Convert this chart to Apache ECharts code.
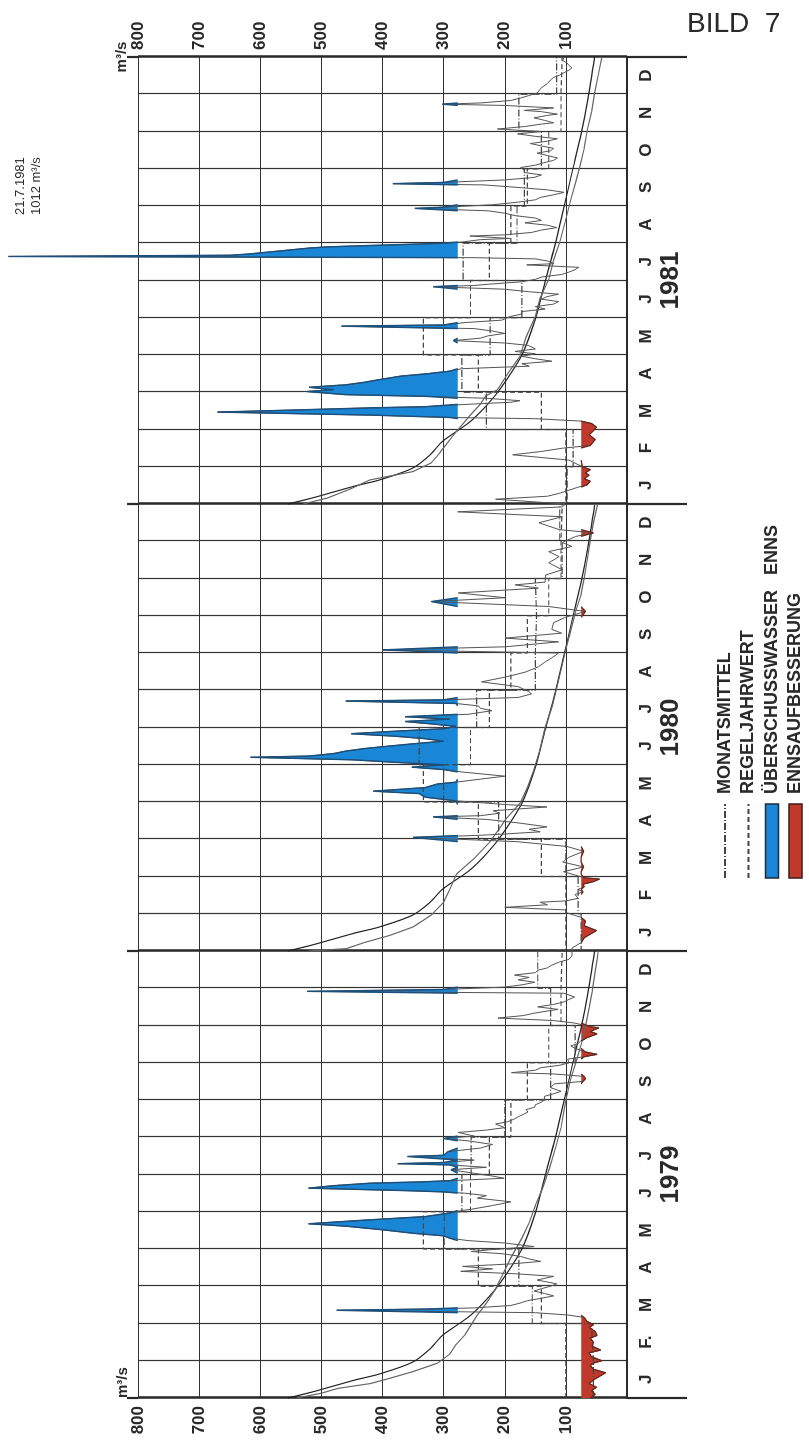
<!DOCTYPE html>
<html>
<head>
<meta charset="utf-8">
<script src="https://cdn.jsdelivr.net/npm/echarts@6/dist/echarts.min.js"></script>
<style>
    html, body { margin: 0; padding: 0; background: #fff; width: 809px; height: 1447px; overflow: hidden; }
    /* chart is drawn lying on its side and turned upright like the scanned sheet */
    #chart { position: absolute; left: 0; top: 0; width: 1447px; height: 809px;
             transform-origin: 0 0; transform: translate(0px, 1447px) rotate(-90deg); }
</style>
</head>
<body>
<div id="chart"></div>
<script>
// ---- data (day of year, m3/s) ----
const years = ['1979', '1980', '1981']
const monthLetters = ['J', 'F', 'M', 'A', 'M', 'J', 'J', 'A', 'S', 'O', 'N', 'D']
const valueTicks = [100, 200, 300, 400, 500, 600, 700, 800]

const flow1979 = [
    [0, 60], [3, 52], [6, 58], [9, 50], [12, 62], [15, 55], [18, 45], [21, 35], [24, 55], [27, 60],
    [29, 55], [31, 41], [34, 58], [37, 62], [39, 43], [42, 57], [45, 55], [48, 60], [50, 49], [53, 52],
    [56, 62], [58, 55], [61, 66], [64, 70], [66, 95], [68, 150], [70, 475], [71, 330], [72, 250], [74, 190],
    [76, 175], [78, 163], [80, 140], [82, 120], [84, 135], [86, 152], [88, 140], [90, 125], [92, 115], [95, 147],
    [98, 120], [100, 180], [102, 272], [104, 220], [106, 269], [108, 190], [110, 141], [112, 160], [114, 174], [116, 200],
    [118, 255], [120, 210], [122, 152], [125, 200], [127, 260], [129, 290], [131, 300], [133, 348], [136, 400], [139, 460],
    [141, 521], [144, 430], [147, 330], [150, 290], [152, 270], [153, 255], [156, 220], [159, 190], [162, 245], [164, 230],
    [166, 266], [167, 300], [168, 360], [170, 521], [172, 480], [174, 420], [175, 340], [176, 290], [178, 201], [180, 223],
    [182, 250], [185, 288], [187, 230], [189, 290], [190, 375], [191, 300], [193, 250], [196, 359], [197, 300], [200, 293],
    [203, 240], [206, 220], [209, 260], [211, 300], [213, 250], [216, 276], [218, 230], [220, 200], [223, 215], [225, 195],
    [227, 185], [229, 178], [231, 170], [233, 162], [235, 165], [237, 151], [239, 150], [241, 141], [243, 135], [246, 135],
    [248, 120], [250, 108], [253, 125], [256, 119], [258, 72], [260, 68], [262, 70], [264, 120], [265, 189], [267, 150],
    [269, 141], [271, 110], [273, 95], [276, 97], [278, 70], [280, 49], [282, 68], [285, 85], [287, 92], [289, 80],
    [291, 76], [294, 65], [297, 49], [299, 60], [302, 46], [303, 60], [306, 86], [308, 120], [310, 211], [312, 170],
    [314, 151], [317, 113], [319, 146], [321, 120], [323, 103], [325, 95], [327, 86], [330, 103], [331.5, 523], [333, 300],
    [335, 200], [337, 170], [339, 151], [341, 178], [343, 160], [345, 184], [347, 150], [349, 146], [351, 130], [353, 124],
    [356, 110], [358, 95], [361, 90], [365, 90]
]
const flow1980 = [
    [0, 90], [2.5, 90], [7, 75], [11, 70], [17, 50], [21, 70], [25, 68], [28, 75], [32, 100], [34, 100],
    [36, 200], [38, 130], [40, 142], [41, 100], [43, 80], [46, 85], [48, 72], [50, 80], [52, 70], [54, 72],
    [56, 55], [58, 45], [59, 70], [62, 90], [64, 104], [68, 71], [72, 105], [76, 95], [81, 71], [85, 98],
    [89, 180], [92.5, 350], [94, 250], [95, 208], [97, 142], [99, 160], [101, 131], [104, 175], [107, 230], [109, 317],
    [110, 240], [112, 208], [114, 219], [117, 131], [119, 200], [122, 280], [125, 330], [128, 340], [130, 415], [133, 330],
    [136, 310], [137.5, 280], [140, 240], [142.5, 200], [146, 270], [148, 300], [150, 352], [152, 300], [154, 380], [156, 450],
    [158, 616], [159, 520], [161, 480], [163, 460], [165, 430], [167, 390], [169, 347], [171, 300], [173, 330], [175, 380],
    [177, 451], [179, 380], [181, 300], [183, 280], [185, 320], [187, 363], [189, 290], [191, 363], [193, 260], [196, 221],
    [198, 240], [200, 243], [202, 280], [204, 460], [205, 300], [207, 178], [210, 156], [212, 161], [216, 178], [220, 238],
    [224, 199], [228, 167], [232.5, 145], [236.6, 134], [240, 123], [244, 112], [246.5, 399], [249, 199], [253, 112], [256, 199],
    [260, 107], [263, 123], [268.5, 120], [272.7, 101], [277.6, 68], [281.7, 128], [285.8, 320], [289, 199], [293, 276], [297, 145],
    [299.7, 183], [302, 134], [307.9, 133], [312, 106], [317.7, 128], [322.6, 111], [326.7, 128], [330.8, 90], [334, 106], [339, 84],
    [342, 55], [344.7, 111], [350.4, 144], [355.4, 106], [359.5, 277], [363.6, 106], [366, 100]
]
const flow1981 = [
    [0, 100], [1, 100], [4, 215], [6.5, 130], [9, 110], [14, 80], [16, 65], [19, 60], [21, 70], [24, 62],
    [26, 68], [28.6, 60], [31, 73], [36, 95], [40, 187], [42.5, 140], [45, 105], [47, 60], [51.5, 52], [55, 62],
    [58, 55], [61, 50], [64, 58], [66, 75], [68, 150], [69, 290], [71, 420], [73.5, 670], [75, 560], [77, 420],
    [78, 330], [80, 260], [81.7, 190], [83, 175], [85, 230], [86.6, 330], [88, 460], [90.6, 524], [92, 480], [94, 520],
    [96, 460], [98, 430], [100, 407], [103, 370], [105, 325], [107, 290], [109, 270], [111, 160], [113, 172], [115, 123],
    [117, 150], [119, 172], [121, 150], [123, 183], [125, 150], [128, 161], [130, 200], [132, 284], [134, 240], [136, 227],
    [138, 200], [140, 221], [142, 250], [144, 467], [145, 300], [147, 265], [149, 205], [152, 191], [154, 172], [156, 172],
    [158, 134], [160, 150], [162, 120], [164, 112], [166, 140], [168, 131], [170, 112], [172, 161], [174, 200], [176, 317],
    [177, 250], [178, 227], [180, 172], [182, 150], [184, 139], [186, 107], [188, 95], [190, 85], [192, 79], [194, 164],
    [195, 120], [197, 128], [199, 150], [200, 250], [201, 1012], [202, 650], [203, 620], [204, 600], [205, 580], [206, 560],
    [208, 520], [209, 490], [210, 430], [211, 363], [212, 300], [213, 270], [215, 240], [216, 191], [218, 257], [219, 200],
    [221, 156], [223, 140], [225, 115], [227, 130], [229, 167], [231, 140], [233, 150], [235, 183], [237, 200], [239, 227],
    [241, 347], [242, 300], [244, 220], [246, 180], [248, 150], [250, 141], [252, 120], [254, 103], [256, 130], [258, 180],
    [260, 234], [261, 383], [262, 300], [264, 200], [266, 152], [268, 140], [270, 168], [272, 168], [274, 174], [276, 150],
    [278, 136], [280, 120], [282, 114], [284, 130], [286, 147], [288, 125], [290, 120], [292, 140], [294, 158], [296, 130],
    [298, 114], [300, 150], [302, 179], [304, 141], [306, 212], [308, 168], [310, 140], [311, 120], [313, 135], [315, 152],
    [317, 130], [318, 114], [320, 140], [321, 168], [323, 120], [325, 200], [326, 302], [327, 240], [329, 190], [331, 174],
    [333, 160], [335, 147], [339, 141], [343, 130], [346, 125], [348, 120], [350, 110], [352, 103], [354, 95], [356, 90],
    [358, 95], [360, 98], [362, 105], [365, 103]
]

// monthly means of each year and the long-term monthly values
const mean1979 = [55, 58, 155, 177, 299, 270, 255, 200, 125, 85, 125, 146]
const mean1980 = [75, 80, 100, 210, 300, 340, 246, 150, 148, 150, 106, 110]
const mean1981 = [98, 88, 230, 270, 224, 172, 268, 180, 168, 140, 177, 115]
const regelMonat = [100, 100, 140, 243, 333, 256, 225, 190, 163, 128, 108, 106]

// duration curves: long-term (smooth) and the one of each year
const dauerRegel = [
    [0, 555], [5, 515], [10, 480], [15, 445], [20, 405], [30, 350], [40, 322], [50, 302], [65, 258], [80, 228],
    [95, 204], [120, 172], [150, 150], [180, 134], [210, 118], [240, 104], [270, 90], [300, 76], [330, 64], [365, 53]
]
const dauer1979 = [
    [0, 540], [4, 500], [8, 473], [12, 420], [16, 391], [22, 350], [29, 310], [36, 290], [43, 280], [50, 266],
    [58, 255], [66, 245], [76, 230], [86, 217], [100, 203], [113, 190], [129, 172], [142, 160], [156, 150], [170, 138],
    [186, 127], [203, 117], [220, 108], [243, 100], [260, 92], [276, 82], [290, 74], [303, 68], [318, 62], [331, 57],
    [345, 53], [358, 49], [365, 47]
]
const dauer1980 = [
    [0, 520], [2, 459], [7, 430], [13, 388], [20, 350], [30, 320], [40, 300], [50, 290], [62, 279], [75, 250],
    [89, 224], [100, 208], [108, 197], [120, 175], [133, 163], [147, 153], [165, 142], [182, 134], [200, 122], [221, 112],
    [245, 101], [260, 93], [276, 85], [290, 76], [305, 70], [320, 65], [336, 60], [350, 55], [366, 48]
]
const dauer1981 = [
    [0, 530], [5, 490], [12, 455], [20, 421], [27, 350], [34, 320], [41, 307], [50, 292], [57, 280], [64, 268],
    [70, 258], [80, 240], [87, 231], [92, 212], [105, 195], [119, 175], [135, 165], [152, 150], [167, 142], [182, 128],
    [198, 120], [213, 110], [230, 101], [248, 92], [262, 84], [275, 77], [290, 70], [305, 65], [320, 58], [335, 53],
    [350, 47], [365, 41]
]

const surplusLimit = 277   // above: Überschusswasser
const lowLimit = 75        // below: Ennsaufbesserung

// ---- helpers ----
const monthDays = yi => yi === 1 ? [31, 29, 31, 30, 31, 30, 31, 31, 30, 31, 30, 31]
                                 : [31, 28, 31, 30, 31, 30, 31, 31, 30, 31, 30, 31]
// day of year -> position in months along the 36 month axis
function toX(yi, t) {
    const lens = monthDays(yi)
    let m = 0, acc = 0
    while (m < 11 && t > acc + lens[m]) { acc += lens[m]; m++ }
    return yi * 12 + m + (t - acc) / lens[m]
}
function perYear(list) {
    let out = []
    list.forEach((arr, yi) => {
        if (yi > 0) out.push([toX(yi, 0), '-'])
        arr.forEach(p => out.push([toX(yi, p[0]), p[1]]))
    })
    return out
}
const daily = []
;[flow1979, flow1980, flow1981].forEach((arr, yi) => arr.forEach(p => daily.push([toX(yi, p[0]), p[1]])))

function clipData(limit, above) {
    const hit = v => above ? v > limit : v < limit
    return daily.map((p, i) => {
        const prev = daily[i - 1], next = daily[i + 1]
        if (hit(p[1]) || (prev && hit(prev[1])) || (next && hit(next[1]))) {
            return [p[0], above ? Math.max(p[1], limit) : Math.min(p[1], limit)]
        }
        return [p[0], '-']
    })
}
function steps(means) {
    let out = []
    means.forEach((arr, yi) => arr.forEach((v, m) => out.push([yi * 12 + m, v])))
    out.push([36, means[means.length - 1][11]])
    return out
}

const monthLabels = []
years.forEach((y, yi) => monthLetters.forEach((l, m) => monthLabels.push(yi === 0 && m === 1 ? 'F.' : l)))

const font = "'Liberation Sans', Arial, sans-serif"
const ink = '#2a2a2a'
const hidden = { color: 'rgba(0,0,0,0)', opacity: 0, borderWidth: 0 }

var myChart = echarts.init(document.getElementById('chart'))
var option = {
    backgroundColor: '#fff',
    animation: false,
    grid: { left: 49, right: 57, top: 138, bottom: 182, containLabel: false },
    legend: {
        orient: 'vertical',
        left: 568,
        top: 716,
        padding: 0,
        itemWidth: 74,
        itemHeight: 13,
        itemGap: 5.5,
        textStyle: { fontFamily: font, fontSize: 18, fontWeight: 'bold', color: ink, padding: [0, 0, 0, 5] },
        data: [
            { name: 'MONATSMITTEL', itemStyle: hidden },
            { name: 'REGELJAHRWERT', itemStyle: hidden },
            { name: 'ÜBERSCHUSSWASSER   ENNS', icon: 'rect', itemStyle: { color: '#1a86d6', borderColor: '#1d2b3a', borderWidth: 1.5 } },
            { name: 'ENNSAUFBESSERUNG', icon: 'rect', itemStyle: { color: '#c0392b', borderColor: '#3a1d1d', borderWidth: 1.5 } },
        ],
    },
    xAxis: [
        {
            type: 'category',
            data: monthLabels,
            position: 'bottom',
            axisLine: { lineStyle: { color: ink, width: 2 } },
            axisTick: { show: false },
            axisLabel: { interval: 0, margin: 11, color: ink, fontFamily: font, fontSize: 17, fontWeight: 'bold' },
            splitLine: { show: true, interval: 0, lineStyle: { color: '#333', width: 1.2 } },
        },
        {
            type: 'category',
            data: years,
            position: 'bottom',
            axisLine: { show: false },
            axisTick: { show: true, interval: 0, length: 60, lineStyle: { color: ink, width: 2.2 } },
            axisLabel: { interval: 0, margin: 31, color: ink, fontFamily: font, fontSize: 26, fontWeight: 'bold' },
            splitLine: { show: true, interval: 0, lineStyle: { color: ink, width: 2.5 } },
        },
        { type: 'value', min: 0, max: 36, show: false },
        {
            type: 'category',
            data: years,
            position: 'top',
            axisLine: { show: false },
            axisTick: { show: true, interval: 0, length: 11, lineStyle: { color: ink, width: 2.2 } },
            axisLabel: { show: false },
            splitLine: { show: false },
        },
    ],
    yAxis: [
        {
            type: 'value', min: 0, max: 800, interval: 100, position: 'left',
            name: 'm³/s', nameLocation: 'end', nameGap: 8,
            nameTextStyle: { color: ink, fontFamily: font, fontSize: 15, fontWeight: 'bold', align: 'left' },
            axisLine: { show: false }, axisTick: { show: false },
            axisLabel: { margin: 8, color: ink, fontFamily: font, fontSize: 17, fontWeight: 'bold',
                         formatter: v => valueTicks.indexOf(v) >= 0 ? v : '' },
            splitLine: { show: true, lineStyle: { color: '#333', width: 1.2 } },
        },
        {
            type: 'value', min: 0, max: 800, interval: 100, position: 'right',
            name: 'm³/s', nameLocation: 'end', nameGap: 8,
            nameTextStyle: { color: ink, fontFamily: font, fontSize: 15, fontWeight: 'bold' },
            axisLine: { show: false }, axisTick: { show: false },
            axisLabel: { margin: 7, color: ink, fontFamily: font, fontSize: 17, fontWeight: 'bold',
                         formatter: v => valueTicks.indexOf(v) >= 0 ? v : '' },
            splitLine: { show: false },
        },
    ],
    series: [
        {
            name: 'Regeldauerlinie', type: 'line', xAxisIndex: 2, symbol: 'none', smooth: 0.3,
            data: perYear([dauerRegel, dauerRegel, dauerRegel]),
            lineStyle: { color: '#222', width: 1.2 },
        },
        {
            name: 'Dauerlinie', type: 'line', xAxisIndex: 2, symbol: 'none',
            data: perYear([dauer1979, dauer1980, dauer1981]),
            lineStyle: { color: '#666', width: 1.2 },
        },
        {
            name: 'REGELJAHRWERT', type: 'line', xAxisIndex: 2, symbol: 'none', step: 'end',
            data: steps([regelMonat, regelMonat, regelMonat]),
            lineStyle: { color: '#444', width: 1.2, type: [5, 3] },
            itemStyle: { color: '#333' },
        },
        {
            name: 'MONATSMITTEL', type: 'line', xAxisIndex: 2, symbol: 'none', step: 'end',
            data: steps([mean1979, mean1980, mean1981]),
            lineStyle: { color: '#444', width: 1.2, type: [7, 2, 1, 2] },
            itemStyle: { color: '#333' },
        },
        {
            name: 'Tageswerte', type: 'line', xAxisIndex: 2, symbol: 'none', clip: false,
            data: daily,
            lineStyle: { color: '#555', width: 1 },
        },
        {
            name: 'ÜBERSCHUSSWASSER   ENNS', type: 'line', xAxisIndex: 2, symbol: 'none', clip: false,
            data: clipData(surplusLimit, true),
            lineStyle: { color: '#1b4f7c', width: 1.4 },
            itemStyle: { color: '#1a86d6' },
            areaStyle: { origin: surplusLimit, color: '#1a86d6', opacity: 1 },
        },
        {
            name: 'ENNSAUFBESSERUNG', type: 'line', xAxisIndex: 2, symbol: 'none',
            data: clipData(lowLimit, false),
            lineStyle: { color: '#6b2418', width: 1.2 },
            itemStyle: { color: '#c0392b' },
            areaStyle: { origin: lowLimit, color: '#c0392b', opacity: 1 },
        },
    ],
    graphic: [
        {
            type: 'text', x: 1437, y: 687, rotation: -Math.PI / 2,
            style: { text: 'BILD  7', fill: ink, font: '28px ' + font, textAlign: 'left', textVerticalAlign: 'top' },
        },
        {
            type: 'text', x: 1232, y: 12,
            style: { text: '21.7.1981\n1012 m³/s', fill: ink, font: '13px ' + font, lineHeight: 16 },
        },
    ],
}
myChart.setOption(option)
</script>
</body>
</html>
